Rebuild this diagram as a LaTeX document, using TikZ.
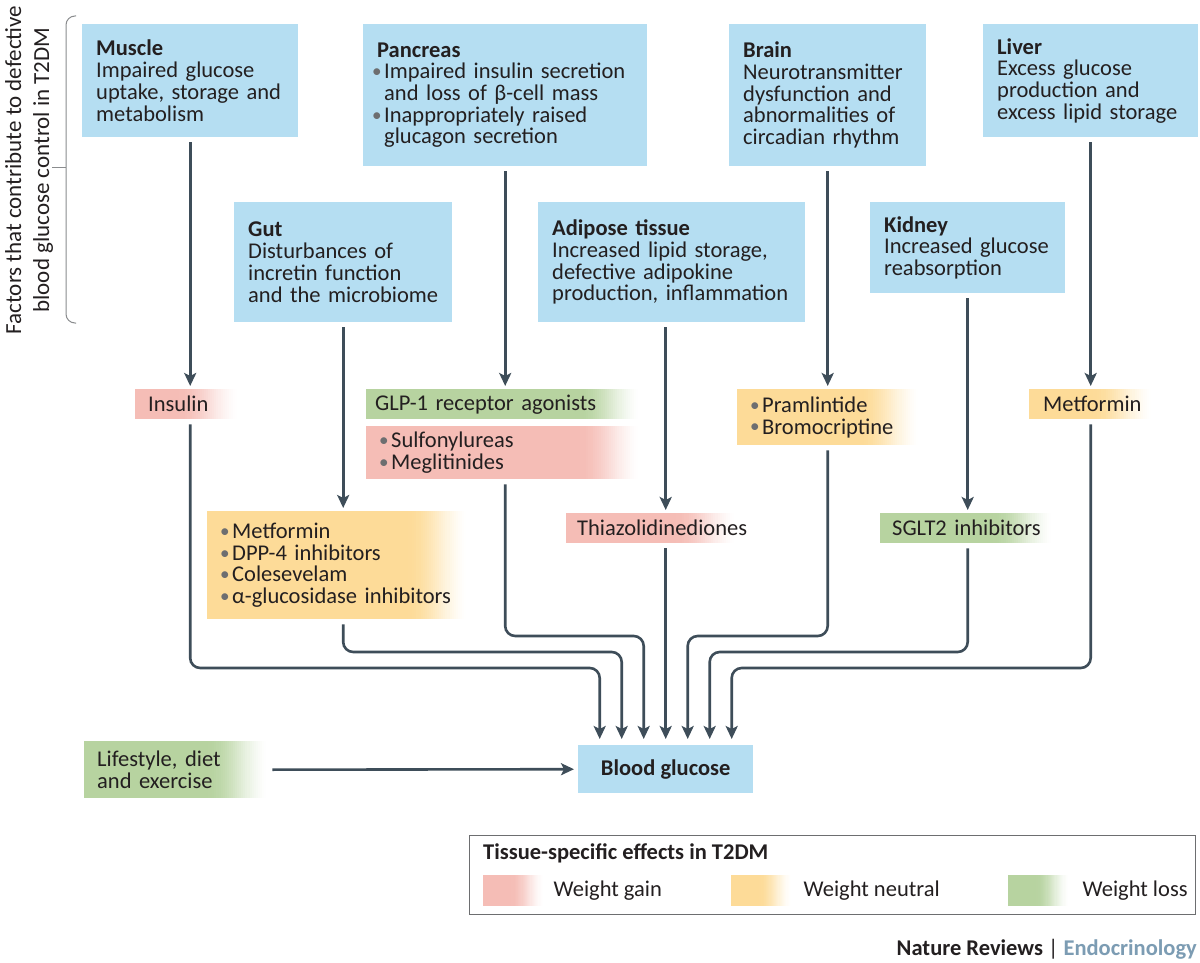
\documentclass[tikz,border=0pt]{standalone}
\usepackage{fontspec}
\setmainfont{Carlito}
\usetikzlibrary{arrows.meta,positioning,calc}

\definecolor{boxblue}{HTML}{B5DEF2}
\definecolor{pinkc}{HTML}{F5BDB6}
\definecolor{yellowc}{HTML}{FDDB98}
\definecolor{greenc}{HTML}{B7D3A0}
\definecolor{arrowcol}{HTML}{3E4D59}
\definecolor{textc}{HTML}{231F20}
\definecolor{dotgray}{HTML}{6D6E70}
\definecolor{framegray}{HTML}{6D6E70}
\definecolor{bracegray}{HTML}{8A8C8E}
\definecolor{endoc}{HTML}{7C9CB3}

\newcommand{\boxfont}{\fontsize{22.5}{21.7}\selectfont}
\newcommand{\bul}{\makebox[12pt][l]{\textcolor{dotgray}{\raisebox{0.1ex}{\scalebox{0.85}{\textbullet}}}}}
\newcommand{\bulin}{\hspace*{12pt}}

\tikzset{
    >={Stealth[length=13pt,width=12pt,inset=3pt]},
    organ/.style={fill=boxblue,anchor=north west,align=left,inner xsep=14pt,inner ysep=0pt,font=\boxfont,text=textc},
    % colour fading (smoothly) to white over the last #2 pt
    fadefill/.style 2 args={
        path picture={
            \fill[#1] (path picture bounding box.south west) rectangle ([xshift=-#2pt+1pt]path picture bounding box.north east);
            \foreach \k in {0,...,29}{
                \pgfmathsetmacro\fadet{(\k+0.5)/30}
                \pgfmathtruncatemacro\shadepct{100*(1-3*\fadet*\fadet+2*\fadet*\fadet*\fadet)}
                \pgfmathsetmacro\shxa{-#2+#2/30*\k}
                \pgfmathsetmacro\shxb{-#2+#2/30*(\k+1)+0.5}
                \fill[#1!\shadepct!white] ([xshift=\shxa pt]path picture bounding box.south east) rectangle ([xshift=\shxb pt]path picture bounding box.north east);
            }
        }},
    drug/.style={anchor=north west,align=left,inner xsep=11pt,inner ysep=0pt,font=\boxfont,text=textc,
        fadefill={#1}{62}},
    swatch/.style={anchor=north west,minimum width=62pt,minimum height=31pt,inner sep=0pt,
        fadefill={#1}{34}},
    arr/.style={draw=arrowcol,line width=2.6pt,->,shorten <=5pt,shorten >=3pt},
    feed/.style={draw=arrowcol,line width=2.6pt,->,rounded corners=10pt,shorten <=5pt}
}

\begin{document}
\begin{tikzpicture}[x=1pt,y=-1pt]
    \fill[white] (0,0) rectangle (1200,963);
    \useasboundingbox (0,0) rectangle (1200,963);

    % Bracket and side label
    \draw[bracegray,line width=1pt,rounded corners=9pt] (76,16) -- (66,16) -- (66,323) -- (76,323);
    \draw[bracegray,line width=1pt] (52,168) -- (66,168);
    \node[rotate=90,align=center,font=\fontsize{23}{28}\selectfont,text=textc] (factors) at (29,170)
        {Factors that contribute to defective\\blood glucose control in T2DM};

    % Tissues
    \node[organ,text width=188pt,minimum height=113pt] (muscle) at (82,24)
        {\textbf{Muscle}\\Impaired glucose\\uptake, storage and\\metabolism};
    \node[organ,text width=256pt,minimum height=142pt] (pancreas) at (363,24)
        {\textbf{Pancreas}\\\hspace*{-5pt}\bul Impaired insulin secretion\\\hspace*{7pt}and loss of β-cell mass\\\hspace*{-5pt}\bul Inappropriately raised\\\hspace*{7pt}glucagon secretion};
    \node[organ,text width=169pt,minimum height=142pt] (brain) at (729,24)
        {\textbf{Brain}\\Neurotransmitter\\dysfunction and\\abnormalities of\\circadian rhythm};
    \node[organ,text width=187pt,minimum height=113pt] (liver) at (983,24)
        {\textbf{Liver}\\Excess glucose\\production and\\excess lipid storage};
    \node[organ,text width=190pt,minimum height=120pt] (gut) at (234,202)
        {\textbf{Gut}\\Disturbances of\\incretin function\\and the microbiome};
    \node[organ,text width=239pt,minimum height=120pt] (adipose) at (538,202)
        {\textbf{Adipose tissue}\\Increased lipid storage,\\defective adipokine\\production, inflammation};
    \node[organ,text width=167pt,minimum height=91pt] (kidney) at (870,202)
        {\textbf{Kidney}\\Increased glucose\\reabsorption};

    % Drugs
    \node[drug=pinkc,inner xsep=13pt,text width=80pt,minimum height=30pt] (insulin) at (135,389) {Insulin};
    \node[drug=greenc,inner xsep=9pt,text width=258pt,minimum height=30pt] (glp) at (366,389) {GLP-1 receptor agonists};
    \node[drug=pinkc,inner xsep=13pt,text width=250pt,minimum height=53pt] (sulfo) at (366,426)
        {\bul Sulfonylureas\\\bul Meglitinides};
    \node[drug=yellowc,inner xsep=13pt,text width=237pt,minimum height=108pt] (gutdrugs) at (207,511)
        {\bul Metformin\\\bul DPP-4 inhibitors\\\bul Colesevelam\\\bul α-glucosidase inhibitors};
    \node[drug=pinkc,text width=150pt,minimum height=30pt] (thiazo) at (566,513) {Thiazolidinediones};
    \node[drug=yellowc,inner xsep=13pt,text width=159pt,minimum height=56pt] (pram) at (737,389)
        {\bul Pramlintide\\\bul Bromocriptine};
    \node[drug=greenc,inner xsep=12pt,text width=151pt,minimum height=30pt] (sglt) at (880,513) {SGLT2 inhibitors};
    \node[drug=yellowc,inner xsep=14pt,text width=98pt,minimum height=30pt] (metf) at (1029,389) {Metformin};
    \node[drug=greenc,inner xsep=13pt,text width=160pt,minimum height=57pt] (lifestyle) at (84,741)
        {Lifestyle, diet\\and exercise};

    % Target
    \node[fill=boxblue,anchor=north west,minimum width=175pt,minimum height=48pt,inner sep=0pt,
        font=\boxfont\bfseries,text=textc] (blood) at (578,745) {Blood glucose};

    \foreach \i/\dx in {1/-66,2/-44,3/-22,4/0,5/22,6/44,7/66}
        \coordinate (in\i) at ([xshift=\dx pt,yshift=6pt]blood.north);
    \coordinate (lvA) at (0,636);
    \coordinate (lvB) at (0,652);
    \coordinate (lvC) at (0,668);

    % Tissue to drug
    \draw[arr] (muscle.south) -- (muscle.south |- insulin.north);
    \draw[arr] (pancreas.south) -- (pancreas.south |- glp.north);
    \draw[arr] (gut.south) -- (gut.south |- gutdrugs.north);
    \draw[arr] (in4 |- adipose.south) -- (in4 |- thiazo.north);
    \draw[arr] (brain.south) -- (brain.south |- pram.north);
    \draw[arr] (kidney.south) -- (kidney.south |- sglt.north);
    \draw[arr] (liver.south) -- (liver.south |- metf.north);

    % Drug to blood glucose
    \draw[feed] (muscle.south |- insulin.south) |- (lvC -| in1) -- (in1);
    \draw[feed] (gut.south |- gutdrugs.south) |- (lvB -| in2) -- (in2);
    \draw[feed] (pancreas.south |- sulfo.south) |- (lvA -| in3) -- (in3);
    \draw[feed] (in4 |- thiazo.south) -- (in4);
    \draw[feed] (brain.south |- pram.south) |- (lvA -| in5) -- (in5);
    \draw[feed] (kidney.south |- sglt.south) |- (lvB -| in6) -- (in6);
    \draw[feed] (liver.south |- metf.south) |- (lvC -| in7) -- (in7);
    \draw[arr,shorten <=2pt,shorten >=4pt] (lifestyle.east) -- (blood.west);

    % Legend
    \node[draw=framegray,line width=1pt,anchor=north west,minimum width=726pt,minimum height=79pt] (legend) at (469,835) {};
    \node[anchor=west,inner sep=0pt,font=\boxfont\bfseries,text=textc] (legtitle) at (483,853) {Tissue-specific effects in T2DM};
    \node[swatch=pinkc] (swgain) at (483,875) {};
    \node[right=8pt of swgain,inner sep=0pt,font=\boxfont,text=textc] (lgain) {Weight gain};
    \node[swatch=yellowc] (swneutral) at (731,875) {};
    \node[right=10pt of swneutral,inner sep=0pt,font=\boxfont,text=textc] (lneutral) {Weight neutral};
    \node[swatch=greenc] (swloss) at (1008,875) {};
    \node[right=12pt of swloss,inner sep=0pt,font=\boxfont,text=textc] (lloss) {Weight loss};

    \node[anchor=base east,inner sep=0pt,font=\fontsize{22.5}{27}\selectfont,text=textc] (credit) at (1197,955)
        {\textbf{Nature Reviews} | \textcolor{endoc}{\textbf{Endocrinology}}};
\end{tikzpicture}
\end{document}
